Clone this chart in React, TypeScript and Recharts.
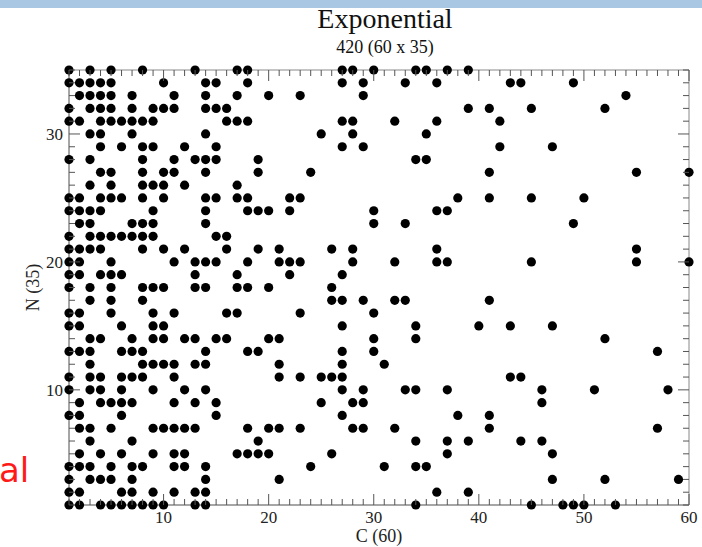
import { ScatterChart, Scatter, XAxis, YAxis, ReferenceArea } from "recharts";

// N value of each row, top to bottom
const nValues = [
  35, 34, 33, 32, 31, 30, 29, 28, 27, 26, 25, 24, 23, 22, 21, 20, 19, 18,
  17, 16, 15, 14, 13, 12, 11, 10, 9, 8, 7, 6, 5, 4, 3, 2, 1,
];

// C values with a dot, for each row in nValues
const cAtN = [
  [1, 3, 5, 8, 13, 17, 18, 27, 28, 30, 34, 35, 37, 39],
  [1, 2, 3, 4, 5, 10, 14, 15, 18, 27, 29, 33, 36, 43, 44, 49],
  [2, 3, 4, 5, 7, 11, 14, 17, 20, 23, 29, 54],
  [1, 3, 4, 5, 7, 9, 10, 11, 14, 15, 16, 39, 41, 45, 52],
  [1, 2, 4, 5, 6, 7, 8, 9, 16, 17, 18, 27, 28, 32, 36, 42],
  [3, 4, 7, 14, 25, 28, 35],
  [4, 6, 8, 9, 12, 15, 27, 29, 42, 47],
  [1, 3, 8, 11, 13, 14, 15, 19, 34, 35],
  [4, 5, 8, 10, 11, 14, 19, 24, 41, 55, 60],
  [3, 5, 8, 9, 10, 12, 17],
  [1, 2, 4, 5, 6, 8, 10, 14, 15, 17, 18, 22, 23, 38, 41, 45, 50],
  [1, 2, 3, 4, 9, 14, 18, 19, 20, 22, 30, 36, 37],
  [2, 3, 7, 8, 9, 14, 30, 33, 49],
  [1, 3, 4, 5, 6, 7, 8, 9, 15, 16],
  [1, 2, 3, 4, 8, 10, 12, 16, 19, 21, 26, 28, 36, 55],
  [1, 2, 5, 11, 13, 14, 15, 18, 21, 22, 23, 28, 32, 36, 37, 45, 55, 60],
  [1, 2, 4, 5, 6, 13, 17, 22, 27],
  [1, 3, 5, 8, 9, 10, 13, 14, 17, 18, 20, 26],
  [3, 5, 8, 26, 27, 29, 32, 33, 41],
  [1, 2, 5, 9, 11, 16, 17, 23, 30],
  [1, 2, 6, 9, 10, 27, 34, 40, 43, 47],
  [3, 4, 7, 9, 10, 12, 13, 15, 16, 20, 21, 30, 34, 52],
  [1, 2, 3, 6, 7, 8, 14, 18, 19, 27, 30, 57],
  [3, 8, 9, 10, 11, 13, 14, 21, 27, 31],
  [1, 3, 4, 6, 7, 8, 11, 21, 23, 25, 26, 27, 43, 44],
  [1, 3, 4, 6, 9, 12, 14, 27, 29, 33, 34, 37, 46, 51, 58],
  [2, 4, 5, 6, 7, 11, 13, 15, 25, 28, 29, 46],
  [1, 2, 6, 15, 27, 38, 41],
  [2, 3, 5, 9, 10, 11, 12, 13, 18, 20, 21, 23, 28, 29, 32, 41, 57],
  [3, 7, 19, 34, 37, 39, 44, 46],
  [2, 4, 6, 9, 11, 12, 17, 18, 19, 20, 26, 37, 47],
  [1, 2, 3, 5, 7, 8, 11, 12, 14, 24, 31, 34, 35],
  [1, 3, 4, 5, 7, 14, 21, 47, 52, 59],
  [1, 2, 6, 7, 9, 11, 13, 14, 36, 39],
  [1, 2, 4, 5, 6, 7, 8, 9, 10, 13, 14, 34, 45, 48, 49, 50, 53],
];

const cTicks = Array.from({ length: 60 }, (_, i) => i + 1);
const nTicks = Array.from({ length: 35 }, (_, i) => i + 1);

const points = nValues.flatMap((n, i) => cAtN[i].map((c) => ({ c, n })));

const W = 702;
const H = 547;
const M = { top: 70, right: 13, bottom: 0, left: 29 };
const Y_AXIS_W = 40;
const X_AXIS_H = 42;
const PLOT_LEFT = M.left + Y_AXIS_W;
const PLOT_RIGHT = W - M.right;
const PLOT_TOP = M.top;
const PLOT_BOTTOM = H - M.bottom - X_AXIS_H;

const serif = "'Liberation Serif', 'Times New Roman', serif";
const tickColor = "#555";

const XTick = ({ x, y, payload }: any) => {
  const v = payload.value;
  const major = v % 10 === 0;
  const len = major ? 11 : 6;
  return (
    <g>
      <line x1={x} x2={x} y1={PLOT_BOTTOM} y2={PLOT_BOTTOM - len} stroke={tickColor} />
      <line x1={x} x2={x} y1={PLOT_TOP} y2={PLOT_TOP + len} stroke={tickColor} />
      {major && (
        <text x={x} y={y} dy={14} textAnchor="middle" fontFamily={serif} fontSize={17} fill="#222">
          {v}
        </text>
      )}
    </g>
  );
};

const YTick = ({ x, y, payload }: any) => {
  const v = payload.value;
  const major = v % 10 === 0;
  const len = major ? 11 : 6;
  return (
    <g>
      <line x1={PLOT_LEFT} x2={PLOT_LEFT + len} y1={y} y2={y} stroke={tickColor} />
      <line x1={PLOT_RIGHT} x2={PLOT_RIGHT - len} y1={y} y2={y} stroke={tickColor} />
      {major && (
        <text x={x - 2} y={y} dy={6} textAnchor="end" fontFamily={serif} fontSize={17} fill="#222">
          {v}
        </text>
      )}
    </g>
  );
};

const Dot = ({ cx, cy }: any) => <circle cx={cx} cy={cy} r={4.6} fill="#000" />;

export default function App() {
  return (
    <div style={{ position: "absolute", left: 0, top: 0, width: W, height: H, background: "#fff", overflow: "hidden" }}>
      <div style={{ position: "absolute", left: 0, top: 0, width: W, height: 8, background: "#a9c6e2" }} />
      <div
        style={{
          position: "absolute",
          left: 285,
          width: 200,
          top: 3,
          textAlign: "center",
          fontFamily: serif,
          fontSize: 28,
          color: "#111",
        }}
      >
        Exponential
      </div>
      <div
        style={{
          position: "absolute",
          left: 285,
          width: 200,
          top: 37,
          textAlign: "center",
          fontFamily: serif,
          fontSize: 18,
          color: "#111",
        }}
      >
        420 (60 x 35)
      </div>
      <div
        style={{
          position: "absolute",
          left: -1,
          top: 450,
          fontFamily: "'DejaVu Sans', sans-serif",
          fontSize: 34,
          color: "#ff1a1a",
        }}
      >
        al
      </div>
      <ScatterChart width={W} height={H} margin={M} style={{ position: "absolute", left: 0, top: 0 }}>
        <XAxis
          type="number"
          dataKey="c"
          domain={[1, 60]}
          ticks={cTicks}
          interval={0}
          height={X_AXIS_H}
          tickLine={false}
          tickSize={0}
          tickMargin={4}
          axisLine={{ stroke: "#888" }}
          tick={<XTick />}
          label={{
            value: "C (60)",
            position: "insideBottom",
            offset: 5,
            style: { fontFamily: serif, fontSize: 18, fill: "#222" },
          }}
        />
        <YAxis
          type="number"
          dataKey="n"
          domain={[1, 35]}
          ticks={nTicks}
          interval={0}
          width={Y_AXIS_W}
          tickLine={false}
          tickSize={0}
          tickMargin={4}
          axisLine={{ stroke: "#888" }}
          tick={<YTick />}
          label={{
            value: "N (35)",
            angle: -90,
            position: "insideLeft",
            offset: 4,
            style: { fontFamily: serif, fontSize: 18, fill: "#222", textAnchor: "middle" },
          }}
        />
        <ReferenceArea x1={1} x2={60} y1={1} y2={35} fill="none" stroke="#888" strokeWidth={1} />
        <Scatter data={points} shape={<Dot />} isAnimationActive={false} />
      </ScatterChart>
    </div>
  );
}
